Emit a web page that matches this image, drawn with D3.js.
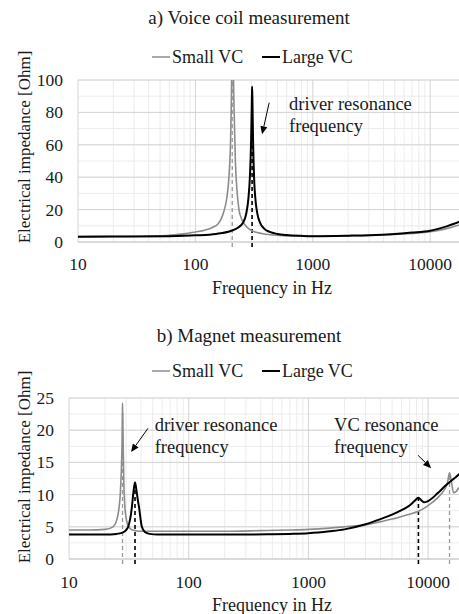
<!DOCTYPE html>
<html><head><meta charset="utf-8"><script src="https://cdn.jsdelivr.net/npm/d3@7"></script></head>
<body style="margin:0">
<svg id="chart" width="459" height="614"></svg>
<script>
// ---- data ----
// a) voice coil measurement
const vcSmallFreq = [10, 20, 40, 60, 80, 100, 120, 140, 155, 165, 175, 185, 193, 199, 203, 206, 209, 213, 219, 226, 235, 248, 265, 290, 330, 400, 520, 700, 1000, 2000, 3000, 5000, 7000, 10000, 14000, 20000];
const vcSmallImp  = [3.3, 3.4, 3.7, 4.2, 5.0, 6.2, 7.3, 9, 11, 14, 19, 27, 40, 60, 90, 115, 115, 85, 50, 32, 20, 14, 10.5, 7.8, 6, 4.8, 4.1, 3.7, 3.6, 3.8, 4.0, 4.6, 5.3, 6.3, 8.4, 11.8];
const vcLargeFreq = [10, 30, 60, 100, 150, 200, 230, 255, 270, 282, 292, 298, 302, 304, 306, 310, 316, 324, 336, 355, 385, 430, 500, 600, 800, 1000, 2000, 3000, 5000, 7000, 10000, 14000, 20000];
const vcLargeImp  = [3.3, 3.4, 3.6, 4.1, 5.0, 6.8, 8.8, 12, 17, 26, 42, 62, 84, 96, 88, 62, 40, 27, 18, 12, 8.3, 6.2, 5, 4.3, 3.8, 3.6, 3.9, 4.2, 5.0, 5.8, 7.0, 9.8, 14];
const vcResFreq = [206, 304];   // small, large
const vcResImp  = [100, 96];

// b) magnet measurement
const mgSmallFreq = [10, 15, 20, 23.3, 25, 26, 26.8, 27.4, 27.8, 28.0, 28.3, 28.7, 29.2, 30, 31.2, 33, 36, 40, 50, 70, 100, 200, 400, 700, 1000, 1500, 2000, 3000, 4000, 5000, 6500, 8300, 10000, 12000, 13600, 14500, 15100, 15600, 16300, 17200, 18000, 20000];
const mgSmallImp  = [4.5, 4.5, 4.6, 5.0, 6.0, 7.5, 10, 14, 19, 24.2, 19, 12, 8.5, 6.4, 5.2, 4.6, 4.4, 4.3, 4.3, 4.3, 4.3, 4.3, 4.4, 4.5, 4.6, 4.8, 5.0, 5.3, 5.8, 6.2, 6.8, 7.4, 8.3, 9.5, 10.7, 11.8, 13.4, 12.2, 10.3, 10.5, 11.0, 11.8];
const mgLargeFreq = [10, 15, 20, 25, 28, 30, 31.2, 32.5, 33.5, 34.5, 35.6, 36.7, 37.7, 38.5, 39.5, 40.6, 43, 47, 55, 70, 100, 200, 300, 500, 700, 1000, 1500, 2000, 3000, 4000, 5000, 6000, 7000, 7700, 8300, 8800, 9200, 10000, 12000, 14000, 16000, 18000, 20000];
const mgLargeImp  = [3.8, 3.8, 3.8, 3.9, 4.1, 4.5, 5.0, 6.3, 8.0, 10.3, 11.9, 10.5, 9.0, 8.0, 6.4, 5.0, 4.2, 3.9, 3.8, 3.8, 3.8, 3.8, 3.8, 3.85, 3.9, 4.0, 4.3, 4.6, 5.4, 6.2, 6.9, 7.6, 8.3, 9.0, 9.5, 9.1, 8.8, 9.0, 10.2, 11.4, 12.3, 13.1, 13.8];
const mgResFreq = [28.0, 35.6, 8300, 15100];
const mgResImp  = [24.2, 11.9, 9.5, 13.4];
const mgResSeries = ['small', 'large', 'large', 'small'];

const xTicks = [10, 100, 1000, 10000];
const seriesNames = ['Small VC', 'Large VC'];

const W = 459, H = 614;
const colors = { small: '#8c8c8c', large: '#000000', major: '#d4d4d4', minor: '#ececec', axis: '#bfbfbf', text: '#1a1a1a' };

const svg = d3.select('#chart');
svg.append('rect').attr('width', W).attr('height', H).attr('fill', '#fff');

const zip = (f, v) => f.map((d, i) => ({ f: d, v: v[i] }));

function txt(sel, size) {
  return sel.style('font-family', "'Liberation Serif'").style('font-size', size + 'px').attr('fill', colors.text);
}

function drawPanel(cfg) {
  const x = d3.scaleLog().domain([10, 20000]).range([cfg.left, cfg.left + cfg.decade * Math.log10(2000)]);
  const y = d3.scaleLinear().domain([0, cfg.yMax]).range([cfg.bottom, cfg.top]);
  const g = svg.append('g');
  const right = W;

  // title + legend
  txt(g.append('text'), 19).attr('x', 249).attr('y', cfg.titleY).attr('text-anchor', 'middle').text(cfg.title);
  const leg = [{ name: seriesNames[0], c: colors.small, w: 1.5, x0: 152 }, { name: seriesNames[1], c: colors.large, w: 2, x0: 262 }];
  leg.forEach(l => {
    g.append('line').attr('x1', l.x0).attr('x2', l.x0 + 18).attr('y1', cfg.legendY - 6).attr('y2', cfg.legendY - 6)
      .attr('stroke', l.c).attr('stroke-width', l.w);
    txt(g.append('text'), 18).attr('x', l.x0 + 20).attr('y', cfg.legendY).text(l.name);
  });

  // grid
  const minorX = [];
  for (let dec = 10; dec < 20000; dec *= 10) for (let k = 2; k <= 9; k++) if (dec * k <= 20000) minorX.push(dec * k);
  g.append('g').selectAll('line').data(minorX).join('line')
    .attr('x1', d => x(d)).attr('x2', d => x(d)).attr('y1', cfg.top).attr('y2', cfg.bottom)
    .attr('stroke', colors.minor).attr('stroke-width', 1);
  g.append('g').selectAll('line').data(d3.range(0, cfg.yMax + 0.01, cfg.yMinor)).join('line')
    .attr('x1', cfg.left).attr('x2', right).attr('y1', d => y(d)).attr('y2', d => y(d))
    .attr('stroke', colors.minor).attr('stroke-width', 1);
  g.append('g').selectAll('line').data(xTicks).join('line')
    .attr('x1', d => x(d)).attr('x2', d => x(d)).attr('y1', cfg.top).attr('y2', cfg.bottom)
    .attr('stroke', colors.major).attr('stroke-width', 1);
  g.append('g').selectAll('line').data(cfg.yTicks).join('line')
    .attr('x1', cfg.left).attr('x2', right).attr('y1', d => y(d)).attr('y2', d => y(d))
    .attr('stroke', d => d === 0 ? colors.axis : colors.major).attr('stroke-width', 1);

  // tick labels
  txt(g.append('g').selectAll('text').data(cfg.yTicks).join('text'), 17.5)
    .attr('x', cfg.yLabelRight).attr('y', d => y(d) + 6).attr('text-anchor', 'end').text(d => d);
  txt(g.append('g').selectAll('text').data(xTicks).join('text'), 17.5)
    .attr('x', d => x(d)).attr('y', cfg.xLabelY).attr('text-anchor', 'middle').text(d => d);
  txt(g.append('text'), 18).attr('x', 272).attr('y', cfg.xTitleY).attr('text-anchor', 'middle').text('Frequency in Hz');
  txt(g.append('text'), 17).attr('transform', 'translate(30,' + cfg.yTitleC + ') rotate(-90)')
    .attr('text-anchor', 'middle').text('Electrical impedance [Ohm]');

  // clip
  const clipId = 'clip-' + cfg.id;
  svg.append('clipPath').attr('id', clipId).append('rect')
    .attr('x', cfg.left).attr('y', cfg.top).attr('width', right - cfg.left).attr('height', cfg.bottom - cfg.top);

  // resonance markers
  g.append('g').selectAll('line').data(cfg.res).join('line')
    .attr('x1', d => x(d.f)).attr('x2', d => x(d.f))
    .attr('y1', cfg.bottom + 5).attr('y2', d => y(Math.min(d.v, cfg.yMax)))
    .attr('stroke', d => d.s === 'small' ? '#999' : '#000')
    .attr('stroke-width', d => d.s === 'small' ? 1.3 : 1.6)
    .attr('stroke-dasharray', '4,3');

  const line = d3.line().x(d => x(d.f)).y(d => y(d.v)).curve(d3.curveMonotoneX);
  const curves = g.append('g').attr('clip-path', 'url(#' + clipId + ')');
  curves.append('path').datum(cfg.small).attr('d', line).attr('fill', 'none')
    .attr('stroke', colors.small).attr('stroke-width', 1.6);
  curves.append('path').datum(cfg.large).attr('d', line).attr('fill', 'none')
    .attr('stroke', colors.large).attr('stroke-width', 2);

  // annotations
  cfg.notes.forEach(n => {
    txt(g.append('text'), 18.5).attr('x', x(n.f)).attr('y', y(n.v)).text(n.l1);
    txt(g.append('text'), 18.5).attr('x', x(n.f)).attr('y', y(n.v) + 22).text(n.l2);
    const x1 = x(n.a[0]), y1 = y(n.a[1]), x2 = x(n.a[2]), y2 = y(n.a[3]);
    const ang = Math.atan2(y2 - y1, x2 - x1), len = 8, wid = 3.5;
    const bx = x2 - len * Math.cos(ang), by = y2 - len * Math.sin(ang);
    g.append('line').attr('x1', x1).attr('y1', y1).attr('x2', bx).attr('y2', by)
      .attr('stroke', '#000').attr('stroke-width', 1);
    g.append('path')
      .attr('d', 'M' + x2 + ',' + y2 +
        'L' + (bx + wid * Math.sin(ang)) + ',' + (by - wid * Math.cos(ang)) +
        'L' + (bx - wid * Math.sin(ang)) + ',' + (by + wid * Math.cos(ang)) + 'Z')
      .attr('fill', '#000');
  });
}

drawPanel({
  id: 'a', title: 'a) Voice coil measurement', titleY: 24, legendY: 63,
  left: 78, decade: 117.4, top: 80, bottom: 242, yMax: 100, yTicks: [0, 20, 40, 60, 80, 100], yMinor: 10,
  yLabelRight: 63, xLabelY: 270, xTitleY: 294, yTitleC: 147,
  small: zip(vcSmallFreq, vcSmallImp), large: zip(vcLargeFreq, vcLargeImp),
  res: vcResFreq.map((f, i) => ({ f: f, v: vcResImp[i], s: i === 0 ? 'small' : 'large' })),
  notes: [{ f: 628, v: 81.5, l1: 'driver resonance', l2: 'frequency', a: [425, 86, 370, 66.5] }]
});

drawPanel({
  id: 'b', title: 'b) Magnet measurement', titleY: 342, legendY: 377,
  left: 69, decade: 119.7, top: 398, bottom: 559, yMax: 25, yTicks: [0, 5, 10, 15, 20, 25], yMinor: 2.5,
  yLabelRight: 54, xLabelY: 588, xTitleY: 611, yTitleC: 467,
  small: zip(mgSmallFreq, mgSmallImp), large: zip(mgLargeFreq, mgLargeImp),
  res: mgResFreq.map((f, i) => ({ f: f, v: mgResImp[i], s: mgResSeries[i] })),
  notes: [
    { f: 52, v: 19.9, l1: 'driver resonance', l2: 'frequency', a: [45.7, 20.3, 33, 16.6] },
    { f: 1640, v: 19.9, l1: 'VC resonance', l2: 'frequency', a: [8240, 16.1, 10600, 14.1] }
  ]
});
</script>
</body>
</html>
